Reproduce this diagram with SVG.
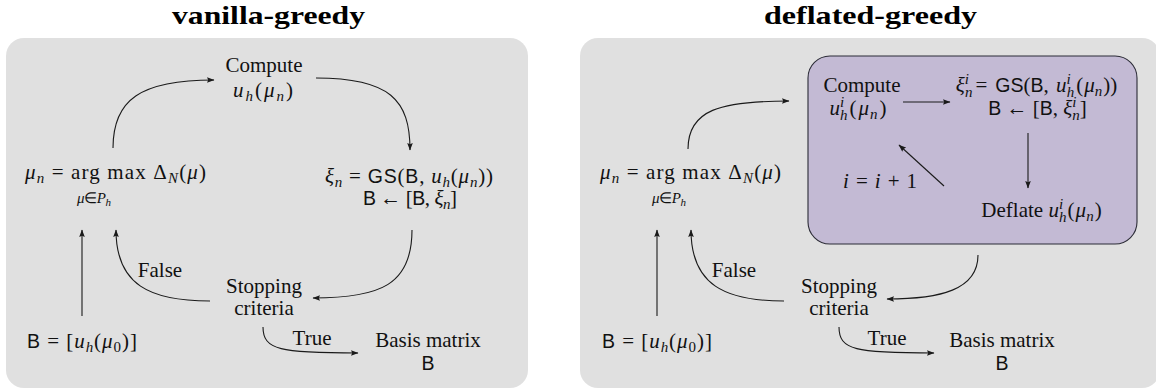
<svg xmlns="http://www.w3.org/2000/svg" width="1156" height="392" viewBox="0 0 1156 392">
<style>
.panel{fill:#e0e0e0}
.box{fill:#c3bad4;stroke:#2b2b36;stroke-width:1.1}
.t{font-family:"Liberation Serif",serif;font-size:21px;fill:#111;text-anchor:middle}
.ttl{font-family:"Liberation Serif",serif;font-size:26px;font-weight:bold;fill:#000;text-anchor:middle}
.i{font-style:italic}
.s{font-family:"Liberation Sans",sans-serif;font-size:19.5px}
.sb{font-size:15px}
.ssb{font-size:11px}
.c{fill:none;stroke:#1a1a1a;stroke-width:1.1;marker-end:url(#ah)}
</style>
<defs>
<marker id="ah" markerWidth="8" markerHeight="6" refX="7" refY="3" orient="auto" markerUnits="userSpaceOnUse">
<path d="M0,0.2 L7.5,3 L0,5.8 L1.2,3 z" fill="#1a1a1a"/>
</marker>
</defs>

<text class="ttl" x="268.5" y="24" textLength="193" lengthAdjust="spacingAndGlyphs">vanilla-greedy</text>
<text class="ttl" x="870.5" y="24" textLength="213" lengthAdjust="spacingAndGlyphs">deflated-greedy</text>

<rect id="panel-vanilla" class="panel" x="6" y="38" width="522" height="350" rx="18"/>
<rect id="panel-deflated" class="panel" x="580" y="38" width="580" height="350" rx="18"/>
<g id="d-inner">
<rect class="box" x="808" y="56" width="329" height="188" rx="22"/>
</g>

<g id="connectors">
<path class="c" d="M113,148 C113,100 140,80 214,80"/>
<path class="c" d="M316,78 C390,78 410,100 410,150"/>
<path class="c" d="M412,230 C412,285 380,298 313,298"/>
<path class="c" d="M210,301 C150,301 116,285 116,230"/>
<path class="c" d="M82,316 L82,230"/>
<path class="c" d="M263,327 C263,350 280,353 358,353"/>

<path class="c" d="M688,149 C688,110 720,101 789,101"/>
<path class="c" d="M978,255 C978,290 940,299 887,299"/>
<path class="c" d="M784,301 C725,301 691,285 691,230"/>
<path class="c" d="M657,316 L657,230"/>
<path class="c" d="M839,327 C839,350 855,353 934,353"/>
<path class="c" d="M903,102 L950,102"/>
<path class="c" d="M1028,133 L1028,188"/>
<path class="c" d="M944,186 L899,145"/>
</g>

<g id="v-compute">
<text class="t" x="264" y="72">Compute</text>
<text class="t" x="263" y="97" textLength="60" lengthAdjust="spacing"><tspan class="i">u</tspan><tspan class="sb i" dy="4">h</tspan><tspan dy="-4">(</tspan><tspan class="i">μ</tspan><tspan class="sb i" dy="4">n</tspan><tspan dy="-4">)</tspan></text>
</g>
<g id="v-argmax">
<text class="t" x="115.5" y="179" textLength="181" lengthAdjust="spacing"><tspan class="i">μ</tspan><tspan class="sb i" dy="4">n</tspan><tspan dy="-4"> = arg max Δ</tspan><tspan class="sb i" dy="4">N</tspan><tspan dy="-4">(</tspan><tspan class="i">μ</tspan>)</text>
<text class="t sb" x="94" y="203" textLength="34" lengthAdjust="spacing"><tspan class="i">μ</tspan>∈<tspan class="i">P</tspan><tspan class="ssb i" dy="3">h</tspan></text>
</g>
<g id="v-gs">
<text class="t" x="409" y="183" textLength="168" lengthAdjust="spacing"><tspan class="i">ξ</tspan><tspan class="sb i" dy="4">n</tspan><tspan dy="-4"> = </tspan><tspan class="s">GS</tspan>(<tspan class="s">B</tspan>, <tspan class="i">u</tspan><tspan class="sb i" dy="4">h</tspan><tspan dy="-4">(</tspan><tspan class="i">μ</tspan><tspan class="sb i" dy="4">n</tspan><tspan dy="-4">))</tspan></text>
<text class="t" x="410" y="205" textLength="94" lengthAdjust="spacing"><tspan class="s">B</tspan> ← [<tspan class="s">B</tspan>, <tspan class="i">ξ</tspan><tspan class="sb i" dy="4">n</tspan><tspan dy="-4">]</tspan></text>
</g>
<g id="v-stop">
<text class="t" x="264" y="293">Stopping</text>
<text class="t" x="264" y="315">criteria</text>
</g>
<g id="v-false"><text class="t" x="160" y="277">False</text></g>
<g id="v-true"><text class="t" x="312" y="345">True</text></g>
<g id="v-basis">
<text class="t" x="428" y="347">Basis matrix</text>
<text class="t s" x="428" y="370">B</text>
</g>
<g id="v-init">
<text class="t" x="82" y="348" textLength="110" lengthAdjust="spacing"><tspan class="s">B</tspan> = [<tspan class="i">u</tspan><tspan class="sb i" dy="4">h</tspan><tspan dy="-4">(</tspan><tspan class="i">μ</tspan><tspan class="sb" dy="4">0</tspan><tspan dy="-4">)]</tspan></text>
</g>

<g id="d-argmax">
<text class="t" x="690.5" y="179" textLength="181" lengthAdjust="spacing"><tspan class="i">μ</tspan><tspan class="sb i" dy="4">n</tspan><tspan dy="-4"> = arg max Δ</tspan><tspan class="sb i" dy="4">N</tspan><tspan dy="-4">(</tspan><tspan class="i">μ</tspan>)</text>
<text class="t sb" x="669" y="203" textLength="34" lengthAdjust="spacing"><tspan class="i">μ</tspan>∈<tspan class="i">P</tspan><tspan class="ssb i" dy="3">h</tspan></text>
</g>
<g id="d-compute">
<text class="t" x="862" y="92">Compute</text>
<text class="t" x="858" y="115"><tspan class="i">u</tspan><tspan class="sb i" dy="-8">i</tspan><tspan class="sb i" dx="-4" dy="13">h</tspan><tspan dx="2" dy="-5">(</tspan><tspan class="i" dx="2">μ</tspan><tspan class="sb i" dx="1" dy="4">n</tspan><tspan dx="2" dy="-4">)</tspan></text>
</g>
<g id="d-gs">
<text class="t" x="1036.5" y="92"><tspan class="i">ξ</tspan><tspan class="sb i" dy="-8">i</tspan><tspan class="sb i" dx="-4" dy="13">n</tspan><tspan dx="3" dy="-5">=</tspan><tspan class="s" dx="8">GS</tspan>(<tspan class="s">B</tspan>, <tspan class="i" dx="2">u</tspan><tspan class="sb i" dy="-8">i</tspan><tspan class="sb i" dx="-4" dy="13">h</tspan><tspan dx="2" dy="-5">(</tspan><tspan class="i" dx="1">μ</tspan><tspan class="sb i" dy="4">n</tspan><tspan dx="1" dy="-4">))</tspan></text>
<text class="t" x="1037.5" y="115"><tspan class="s">B</tspan> ← [<tspan class="s">B</tspan>, <tspan class="i">ξ</tspan><tspan class="sb i" dy="-8">i</tspan><tspan class="sb i" dx="-4" dy="13">n</tspan><tspan dy="-5">]</tspan></text>
</g>
<g id="d-deflate">
<text class="t" x="1041.5" y="217">Deflate <tspan class="i">u</tspan><tspan class="sb i" dy="-8">i</tspan><tspan class="sb i" dx="-4" dy="13">h</tspan><tspan dx="1" dy="-5">(</tspan><tspan class="i" dx="1">μ</tspan><tspan class="sb i" dy="4">n</tspan><tspan dx="1" dy="-4">)</tspan></text>
</g>
<g id="d-incr">
<text class="t" x="880" y="188" textLength="74" lengthAdjust="spacing"><tspan class="i">i</tspan> = <tspan class="i">i</tspan> + 1</text>
</g>
<g id="d-stop">
<text class="t" x="839" y="293">Stopping</text>
<text class="t" x="839" y="315">criteria</text>
</g>
<g id="d-false"><text class="t" x="734" y="277">False</text></g>
<g id="d-true"><text class="t" x="887" y="345">True</text></g>
<g id="d-basis">
<text class="t" x="1002" y="347">Basis matrix</text>
<text class="t s" x="1002" y="370">B</text>
</g>
<g id="d-init">
<text class="t" x="657" y="348" textLength="110" lengthAdjust="spacing"><tspan class="s">B</tspan> = [<tspan class="i">u</tspan><tspan class="sb i" dy="4">h</tspan><tspan dy="-4">(</tspan><tspan class="i">μ</tspan><tspan class="sb" dy="4">0</tspan><tspan dy="-4">)]</tspan></text>
</g>
</svg>
